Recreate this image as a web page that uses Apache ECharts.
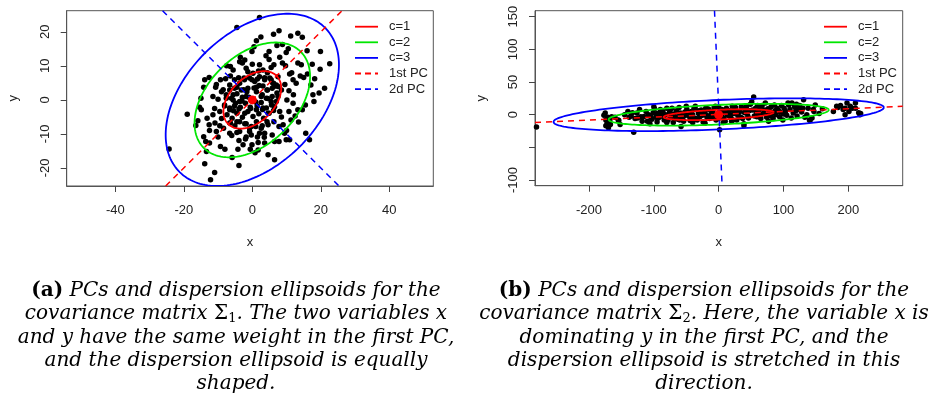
<!DOCTYPE html>
<html><head><meta charset="utf-8">
<script src="https://cdn.jsdelivr.net/npm/echarts@6/dist/echarts.min.js"></script>
<style>html,body{margin:0;padding:0;background:#fff}#c{width:944px;height:416px}</style>
</head><body><div id="c"></div>
<script>
// ---------- DATA ----------
const xTicksA = [-40, -20, 0, 20, 40];
const yTicksA = [-20, -10, 0, 10, 20];
const xTicksB = [-200, -100, 0, 100, 200];
const yTicksB = [-100, -50, 0, 50, 100, 150];
const yLabelsB = [-100, 0, 50, 100, 150];

const legendNames = ['c=1', 'c=2', 'c=3', '1st PC', '2d PC'];

// panel (a) observations
const pointsA = [
[2.1,24.2],[-4.5,21.3],[7.8,20.3],[6.2,19.3],[11.2,18.8],[13.3,19.6],[14.6,18.4],[1.2,17.4],[7.2,16.0],[8.8,16.3],[0.5,15.6],[-0.1,14.2],[4.9,14.2],[9.9,13.9],[16.0,14.4],[19.9,14.2],
[-2.2,11.7],[-3.7,11.2],[-2.9,10.8],[2.1,10.3],[4.9,11.9],[6.3,10.3],[8.8,10.8],[9.7,10.0],[13.3,10.8],[14.3,10.3],[22.6,10.6],[19.8,9.0],
[-6.4,9.8],[-5.6,8.8],[-1.8,9.3],[-1.3,8.3],[0.2,7.8],[3.1,8.8],[4.4,8.0],[10.9,7.6],[16.1,7.6],[15.0,6.6],[18.2,6.2],[21.1,3.4],
[-12.6,6.6],[-13.9,5.9],[-9.3,5.9],[-7.8,6.2],[-6.4,7.0],[-5.2,5.9],[-2.4,6.4],[-0.1,5.9],[1.5,6.1],[3.6,6.5],[5.5,5.9],[7.5,6.8],[6.0,4.9],[11.9,5.9],[12.8,4.9],[17.1,4.4],[17.7,1.5],[19.5,2.0],[18.0,-0.5],
[-14.2,3.7],[-10.7,3.7],[-9.0,2.4],[-11.5,1.0],[-10.0,0.2],[-6.6,2.9],[-5.6,1.5],[-4.5,3.7],[-3.2,2.9],[-1.3,3.4],[1.2,3.7],[3.1,4.1],[4.4,2.9],[5.8,3.4],[7.0,4.4],[8.5,2.9],[10.7,2.7],
[-7.6,0.5],[-5.6,0.0],[-3.7,-0.5],[-1.8,1.0],[2.6,1.0],[4.1,0.5],[5.5,-0.5],[7.5,1.0],[10.1,0.0],[11.9,-1.0],
[-19.0,-4.2],[-15.4,-2.2],[-14.9,-2.9],[-15.9,-6.1],[-13.2,-5.4],[-11.5,-4.4],[-9.5,-3.4],[-8.1,-1.8],[-6.6,-2.9],[-5.2,-1.8],[-3.9,-2.7],[-2.2,-3.9],[-0.6,-2.2],[1.2,-2.9],[3.1,-2.4],[4.6,-3.9],[6.5,-2.0],[8.0,-3.4],[10.7,-3.4],[13.3,-2.9],[14.6,-2.9],[12.5,-4.7],[11.3,-5.9],
[-12.6,-7.3],[-10.9,-6.8],[-9.5,-7.6],[-8.4,-8.3],[-6.4,-6.8],[-4.5,-6.4],[-2.2,-7.0],[-0.8,-8.3],[1.0,-7.8],[2.6,-8.3],[4.6,-7.3],[6.3,-6.4],[7.8,-7.8],[9.0,-7.3],[9.4,-9.8],[5.8,-10.3],[3.6,-9.8],[1.5,-10.9],[-0.3,-10.3],[-1.8,-10.9],[-4.5,-9.6],[-6.6,-9.8],[-10.5,-9.3],[-14.2,-10.8],
[-13.6,-12.2],[-12.5,-12.7],[-10.0,-10.9],[-9.3,-13.7],[-3.9,-11.9],[-2.7,-13.2],[-0.1,-13.2],[1.7,-12.5],[3.6,-12.7],[6.5,-12.2],[7.8,-12.2],[9.9,-11.7],[10.9,-11.7],[16.7,-11.7],
[-13.4,-15.2],[-4.2,-14.5],[-0.6,-14.5],[1.7,-14.7],[4.6,-16.1],[-5.9,-16.9],[6.5,-17.6],[-13.9,-18.8],[-3.9,-19.3],[-11.0,-21.3],[-12.2,-23.5],[-24.3,-14.4],[15.6,-9.8],
[-6.6,4.4],[-5.2,3.4],[-3.7,4.9],[-2.3,5.9],[-0.8,6.4],[0.7,5.4],[2.1,6.8],[3.6,5.9],[5.1,6.4],[6.2,4.9],[7.5,3.9],
[-7.6,1.5],[-6.1,0.5],[-4.5,1.8],[-2.9,0.8],[-1.6,2.4],[1.2,2.4],[2.9,1.5],[4.3,2.9],[5.8,1.0],[7.2,2.0],
[-8.1,-1.5],[-6.6,-2.4],[-4.9,-1.0],[-3.5,-2.2],[-2.0,-1.0],[1.4,-1.8],[2.6,-0.8],[4.1,-2.4],[5.6,-1.5],[7.0,-0.5],
[-7.4,-4.4],[-5.9,-5.4],[-4.5,-3.9],[-2.9,-5.1],[-1.3,-3.4],[0.2,-4.9],[1.9,-4.1],[3.3,-5.4],[4.9,-3.9],[6.2,-3.1],
[-6.6,-6.8],[-5.1,-7.6],[-3.7,-6.4],[-1.8,-7.0],[-0.3,-7.8],[1.2,-6.4],[2.9,-7.6],[4.3,-6.4],[-0.8,-9.3],[-3.7,-9.3],[2.1,-9.8],
[-1.0,0.8],[1.0,-0.6],[-2.5,3.0],[3.0,-2.8],[0.5,3.5],[-0.5,-2.5],[2.0,4.2],[-3.0,-0.3],[4.5,0.4],[-5.5,-3.2],[6.5,4.0],[-4.0,6.5],[1.8,8.5],[-2.0,-11.5],[3.5,-11.0],[8.5,-5.0],[-9.0,-5.5],[9.5,4.5],[-8.5,3.0],[0.0,10.5],[5.5,9.5],[-6.0,-10.5],[10.0,-9.0],[11.5,8.0],[-11.0,-2.5],[12.0,1.5],[-12.5,-9.0],[13.5,-6.5],[-10.5,4.5],[8.0,12.5],[-3.5,12.5],[4.0,13.0],[0.8,-15.5],[-8.0,-14.5],[15.5,-1.5],[14.0,7.0],[-15.0,0.5],[-16.5,-7.5],[17.5,10.5],[-7.5,10.0],[10.5,15.0],[2.5,18.5]
];

// panel (b) observations
const pointsB = [
[-281,-19],[-177,-1],[-174,-8],[-172,-13],[-174,-17],[-170,-20],[-167,-15],[-165,-3],[-154,-9],[-152,-15],[-175,2.5],[-171,-4],[-168,-9],[-160,-4],[-155,-8],[-131,-27],
[-145,0],[-140,5],[-138,-4],[-133,3],[-129,-6],[-126,2.5],[-122,8],[-120,-3],[-118,-10],[-115,-2.6],[-112,5],[-110,-10],[-108,0],[-106,-14],[-103,-7],[-101,3],[-99,9],[-97,-4],[-95,-11],[-93,-5],[-91,2],[-90,8],[-88,-2],[-86,5],[-84,-8],[-82,0],[-80,10],[-78,-8],[-76,3],[-74,-4],[-72,10],[-70,-12],[-69,1],[-67,-3],[-65,6],[-63,-7],[-61,11],[-59,2.5],[-58,-18],[-56,-5],[-54,-10],[-52,4],[-50,13],[-49,8],[-47,-1],[-45,-3],[-44,-9],[-42,5],[-40,0],[-38,10],[-36,13],[-35,-6],[-33,-8],[-31,2],[-29,-3],[-27,7],[-26,2.5],[-24,-11],[-22,4],[-21,-13],[-19,0],[-17,9],[-15,8],[-14,-6],[-12,-2],[-10,-4],[-9,5],[-7,11],[-5,13],[-4,-8],[-2,1],[0,-6],[1.5,-23],[2,7],[4,-2],[5,8],[7,-12],[9,3],[10,-10],[12,10],[14,-1],[15,0],[17,6],[19,-5],[21,13],[22,-8],[24,2],[26,11],[28,-8],[30,4],[32,-3],[33,5],[35,12],[37,-6],[39,-14],[39,-17],[41,8],[43,13],[45,-2],[47,6],[49,16],[51,20],[54,27],[55,-2],[57,10],[59,-3],[61,4],[63,8],[65,-6],[67,14],[69,2],[72,18],[74,-4],[76,9],[77,-10],[79,5],[81,12],[82,2.5],[84,-6],[86,15],[88,0],[90,10],[92,7],[94,-3],[95,4],[97,14],[99,-8],[101,10],[103,5],[105,-1],[107,18],[108,15],[110,8],[112,-5],[113,18],[115,2.5],[117,12],[119,6],[121,-2],[123,8],[125,14],[128,4],[131,23],[133,-4],[136,0],[138,10],[140,-8],[141,-9],[144,-5],[146,8],[147,5],[149,15],
[177,5],[182,13],[184,11],[188,14],[192,8],[195,10],[195,0],[198,18],[201,5],[203,13],[206,10],[211,18],[211,10],[216,3],[218,0],[219,2],
[-85,-3],[-75,6],[-68,-6],[-60,0],[-53,-2],[-46,3],[-39,-5],[-32,6],[-25,-1],[-18,-4],[-11,3],[-6,-2],[3,2],[8,-5],[13,5],[18,-1],[23,6],[29,0],[34,-4],[40,3],[46,-5],[52,7],[58,4],[64,-1],[70,7],[75,1],[80,-2],[87,6],[-95,2],[-105,-3],[-125,-5],[-135,-2],[-100,12],[-80,-12],[-60,-8],[-40,-12],[-20,10],[0,12],[20,-10],[60,14],[100,1],[120,16],[130,10],[155,2],[160,9]
];

const centerA = [[0, 0]];
const centerB = [[0, 0]];

// dispersion ellipses: [centre x, centre y, semi-major, semi-minor, angle in degrees] for c = 1, 2, 3
const ellipsesA = [[0, 0, 10, 6.5, 45], [0, 0, 20, 13, 45], [0, 0, 30, 19.5, 45]];
const ellipsesB = [[0, 0, 85, 7.5, 2.5], [0, 0, 170, 15, 2.5], [0, 0, 255, 22.5, 2.5]];

// principal component lines (end points where they leave the plot box)
const pc1A = [[-25.3, -25.3], [26.2, 26.2]];
const pc2A = [[-26.2, 26.2], [25.3, -25.3]];
const pc1B = [[-283.3, -11.8], [283.9, 12.8]];
const pc2B = [[-6.4, 159.2], [5.3, -108.7]];

// ---------- STYLE ----------
const ellColors = ['#ff0000', '#00e600', '#0000ff'];
const SANS = "'Liberation Sans', Arial, sans-serif";
const SERIF = "'DejaVu Serif', serif";

const chart = echarts.init(document.getElementById('c'), null, {renderer: 'canvas'});

function ellipseRender(params, api) {
  const cx = api.value(0), cy = api.value(1), a = api.value(2), b = api.value(3);
  const t = api.value(4) * Math.PI / 180;
  const pts = [];
  for (let k = 0; k <= 180; k++) {
    const s = k / 180 * 2 * Math.PI;
    const ex = a * Math.cos(s), ey = b * Math.sin(s);
    pts.push(api.coord([cx + ex * Math.cos(t) - ey * Math.sin(t), cy + ex * Math.sin(t) + ey * Math.cos(t)]));
  }
  return {type: 'polyline', shape: {points: pts}, style: {fill: null, stroke: ellColors[params.dataIndex], lineWidth: 1.8}};
}

function xAxisCfg(gi, min, max, ticks) {
  return {
    type: 'value', gridIndex: gi, min: min, max: max,
    axisLine: {show: true, onZero: false, lineStyle: {color: '#555', width: 1}},
    splitLine: {show: false},
    axisTick: {show: true, length: 6, customValues: ticks, lineStyle: {color: '#444'}},
    axisLabel: {customValues: ticks, fontSize: 13, color: '#222', fontFamily: SANS, margin: 18},
    name: 'x', nameLocation: 'middle', nameGap: 50,
    nameTextStyle: {fontSize: 13, color: '#222', fontFamily: SANS}
  };
}
function yAxisCfg(gi, min, max, ticks, labels) {
  return {
    type: 'value', gridIndex: gi, min: min, max: max,
    axisLine: {show: true, onZero: false, lineStyle: {color: '#555', width: 1}},
    splitLine: {show: false},
    axisTick: {show: true, length: 6, customValues: ticks, lineStyle: {color: '#444'}},
    axisLabel: {customValues: labels, fontSize: 13, color: '#222', fontFamily: SANS, rotate: 90, margin: 15},
    name: 'y', nameLocation: 'middle', nameGap: 47, nameRotate: 90,
    nameTextStyle: {fontSize: 13, color: '#222', fontFamily: SANS}
  };
}

function panelSeries(k, pts, ells, pc1, pc2, ctr) {
  return [
    {type: 'scatter', xAxisIndex: k, yAxisIndex: k, data: pts, symbolSize: 5.5,
     itemStyle: {color: '#000', opacity: 1}, silent: true, z: 2},
    {type: 'custom', xAxisIndex: k, yAxisIndex: k, data: ells, renderItem: ellipseRender,
     encode: {x: 0, y: 1}, silent: true, z: 3, clip: true},
    {type: 'line', name: '1st PC', xAxisIndex: k, yAxisIndex: k, data: pc1, symbol: 'none',
     lineStyle: {color: '#ff0000', width: 1.5, type: [6, 5]}, silent: true, z: 4, clip: true},
    {type: 'line', name: '2d PC', xAxisIndex: k, yAxisIndex: k, data: pc2, symbol: 'none',
     lineStyle: {color: '#0000ff', width: 1.5, type: [6, 5]}, silent: true, z: 4, clip: true},
    {type: 'scatter', xAxisIndex: k, yAxisIndex: k, data: ctr, symbolSize: 9,
     itemStyle: {color: '#ff0000', opacity: 1}, silent: true, z: 5}
  ];
}

// legend drawn as graphics
const legendColors = ['#ff0000', '#00e600', '#0000ff', '#ff0000', '#0000ff'];
const legendDash = [null, null, null, [6, 4], [6, 4]];
function legendGraphic(x0) {
  const els = [];
  legendNames.forEach((n, i) => {
    const y = 26.7 + i * 15.6;
    els.push({type: 'line', shape: {x1: x0, y1: y, x2: x0 + 23, y2: y},
      style: {stroke: legendColors[i], lineWidth: 1.8, lineDash: legendDash[i]}});
    els.push({type: 'text', x: x0 + 34, y: y, style: {text: n, fontSize: 13, fontFamily: SANS, fill: '#222',
      verticalAlign: 'middle', align: 'left'}});
  });
  return els;
}

// captions
const CS = 20;
const capRich = {
  b: {fontFamily: SERIF, fontSize: CS, fontWeight: 'bold', fontStyle: 'normal', fill: '#000'},
  i: {fontFamily: SERIF, fontSize: CS, fontStyle: 'italic', fill: '#000'},
  m: {fontFamily: SERIF, fontSize: CS, fontStyle: 'normal', fill: '#000'},
  s: {fontFamily: SERIF, fontSize: 13, fontStyle: 'normal', fill: '#000', padding: [9, 0, 0, 0]}
};
const capA = [
  '{b|(a)}{i| PCs and dispersion ellipsoids for the}',
  '{i|covariance matrix }{m|Σ}{s|1}{i|. The two variables x}',
  '{i|and y have the same weight in the first PC,}',
  '{i|and the dispersion ellipsoid is equally}',
  '{i|shaped.}'
];
const capB = [
  '{b|(b)}{i| PCs and dispersion ellipsoids for the}',
  '{i|covariance matrix }{m|Σ}{s|2}{i|. Here, the variable x is}',
  '{i|dominating y in the first PC, and the}',
  '{i|dispersion ellipsoid is stretched in this}',
  '{i|direction.}'
];
function captionGraphic(lines, cx) {
  return lines.map((t, i) => ({
    type: 'text', x: cx, y: 291 + i * 23.2,
    style: {text: t, rich: capRich, align: 'center', verticalAlign: 'middle', fontFamily: SERIF, fontSize: CS, fill: '#000'}
  }));
}

const option = {
  animation: false,
  backgroundColor: '#fff',
  grid: [
    {left: 66.7, top: 10.7, width: 366.6, height: 175.3, show: true, borderColor: '#555', borderWidth: 1, backgroundColor: 'transparent'},
    {left: 535, top: 10.7, width: 367.7, height: 175, show: true, borderColor: '#555', borderWidth: 1, backgroundColor: 'transparent'}
  ],
  xAxis: [xAxisCfg(0, -54.2, 52.85, xTicksA), xAxisCfg(1, -283.3, 283.9, xTicksB)],
  yAxis: [yAxisCfg(0, -25.3, 26.2, yTicksA, yTicksA), yAxisCfg(1, -108.7, 159.2, yTicksB, yLabelsB)],
  series: [].concat(
    panelSeries(0, pointsA, ellipsesA, pc1A, pc2A, centerA),
    panelSeries(1, pointsB, ellipsesB, pc1B, pc2B, centerB)
  ),
  graphic: [].concat(legendGraphic(355), legendGraphic(824), captionGraphic(capA, 236), captionGraphic(capB, 704))
};
chart.setOption(option);
</script></body></html>
